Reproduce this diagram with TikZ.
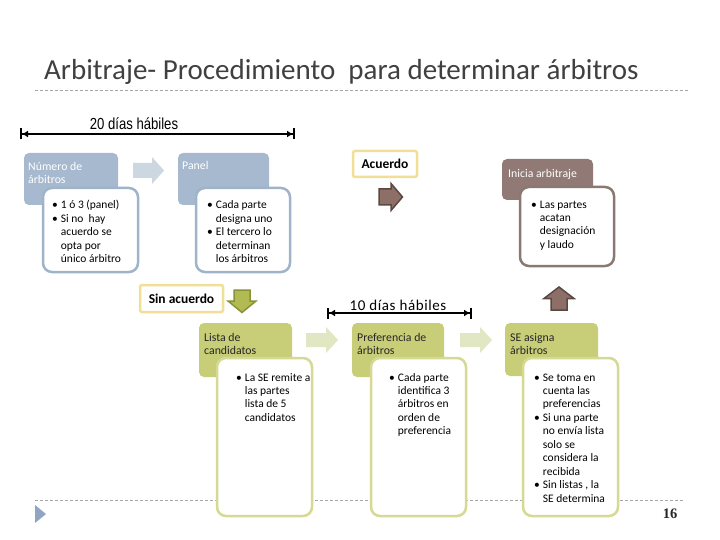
\documentclass[tikz,border=0pt]{standalone}
\usepackage{fontspec}
\setmainfont{Carlito}
\newfontfamily\narrowfont[FakeStretch=0.82]{Liberation Sans}
\newfontfamily\spacedfont[LetterSpace=4]{Carlito}
\newfontfamily\numfont{Liberation Serif}
\usetikzlibrary{arrows.meta}
\definecolor{titlegray}{HTML}{404040}
\definecolor{dashgray}{HTML}{A6A6A6}
\definecolor{blueC}{HTML}{A6B9CF}
\definecolor{blueB}{HTML}{A0B4C9}
\definecolor{blueP}{HTML}{CDD7E2}
\definecolor{brownC}{HTML}{917A75}
\definecolor{brownB}{HTML}{8A7873}
\definecolor{brownF}{HTML}{8E6F68}
\definecolor{brownD}{HTML}{5A4843}
\definecolor{greenC}{HTML}{C8CD78}
\definecolor{greenB}{HTML}{D5D994}
\definecolor{greenP}{HTML}{E1E6C3}
\definecolor{greenF}{HTML}{B2BA52}
\definecolor{greenD}{HTML}{899238}
\definecolor{yellowB}{HTML}{F2DF96}
\definecolor{triblue}{HTML}{8FA5C2}
\newcommand\mylines[1]{\begin{tabular}[t]{@{}l@{}}#1\end{tabular}}
\newcommand\blist[1]{\begin{tabular}[t]{@{}l@{\hspace{3pt}}l@{}}#1\end{tabular}}
\newcommand\bu{\textbullet}
\begin{document}
\begin{tikzpicture}[x=1pt,y=-1pt,
  dashrule/.style={draw=dashgray, line width=0.8pt, dash pattern=on 3pt off 2pt},
  colbox/.style={rounded corners=5pt},
  whitebox/.style={rounded corners=9pt, fill=white, line width=2.5pt},
  ttl/.style={anchor=base west, inner sep=0, font=\fontsize{11.8}{13}\selectfont},
  blt/.style={anchor=base west, inner sep=0, font=\fontsize{11.5}{13.45}\selectfont, text=black},
  decbox/.style={draw=yellowB, line width=2.5pt, fill=white, rounded corners=2pt, inner sep=0,
    font=\bfseries\fontsize{13.5}{15}\selectfont},
  dimline/.style={line width=2pt,
    {Bar[width=11pt,line width=2pt]Latex[length=6pt,width=7pt]}-{Latex[length=6pt,width=7pt]Bar[width=11pt,line width=2pt]}},
  blockarrow/.style={line width=1.5pt, line join=miter}
]
\useasboundingbox (0,0) rectangle (720,540);

% title and rules
\node[anchor=base west, inner sep=0, font=\fontsize{29}{34}\selectfont, text=titlegray] (title) at (44,80)
  {Arbitraje- Procedimiento~ para determinar árbitros};
\coordinate (r1a) at (35,90); \coordinate (r1b) at (690,90);
\draw[dashrule] (r1a) -- (r1b);
\coordinate (r2a) at (35,500); \coordinate (r2b) at (684,500);
\draw[dashrule] (r2a) -- (r2b);
\fill[triblue] (35,505) -- (46,514) -- (35,523) -- cycle;
\node[anchor=base, inner sep=0, font=\fontsize{14.5}{16}\numfont\bfseries, text=black!85] (pg) at (670,518) {16};

% 20 dias habiles
\coordinate (d1a) at (20,134); \coordinate (d1b) at (295,134);
\draw[dimline] (d1a) -- (d1b);
\node[anchor=base, inner sep=0, font=\narrowfont\fontsize{16}{18}\selectfont] (d1t) at (134,130) {20 días hábiles};

% 10 dias habiles
\coordinate (d2a) at (327,313); \coordinate (d2b) at (472,313);
\draw[dimline] (d2a) -- (d2b);
\node[anchor=base, inner sep=0, font=\spacedfont\fontsize{15}{17}\selectfont] (d2t) at (398,310) {10 días hábiles};

% ---------- Numero de arbitros
\fill[colbox, blueC] (24,153) rectangle (118,205);
\draw[whitebox, draw=blueB] (43,188) rectangle (138,272);
\node[ttl, text=white] (numT) at (28,171) {\mylines{Número de\\árbitros}};
\node[blt] (numL) at (52,209) {\blist{\bu & 1 ó 3 (panel)\\ \bu & Si no~ hay\\ & acuerdo se\\ & opta por\\ & único árbitro}};

% pale arrow
\fill[blueP] (133,163) -- (152,163) -- (152,157) -- (164,170.5) -- (152,184) -- (152,178) -- (133,178) -- cycle;

% ---------- Panel
\fill[colbox, blueC] (178,153) rectangle (269,205);
\draw[whitebox, draw=blueB] (196,188) rectangle (290,272);
\node[ttl, text=white] (panT) at (182,170) {\mylines{Panel}};
\node[blt] (panL) at (207,209) {\blist{\bu & Cada parte\\ & designa uno\\ \bu & El tercero lo\\ & determinan\\ & los árbitros}};

% ---------- Acuerdo
\node[decbox, minimum width=64pt, minimum height=26pt] (acu) at (385,164) {Acuerdo};
\filldraw[blockarrow, fill=brownF, draw=brownD] (379,189) -- (391,189) -- (391,183.5) -- (402.5,197) -- (391,210.5) -- (391,205) -- (379,205) -- cycle;

% ---------- Inicia arbitraje
\fill[colbox, brownC] (502,159) rectangle (593,200);
\draw[whitebox, draw=brownB] (520,187) rectangle (614,266);
\node[ttl, text=white] (iniT) at (508,178) {\mylines{Inicia arbitraje}};
\node[blt] (iniL) at (531,208) {\blist{\bu & Las partes\\ & acatan\\ & designación\\ & y laudo}};

% ---------- Sin acuerdo
\node[decbox, minimum width=83pt, minimum height=27pt] (sin) at (181.5,298.5) {Sin acuerdo};
\filldraw[blockarrow, fill=greenF, draw=greenD] (234,290) -- (250,290) -- (250,301) -- (256,301) -- (242,312.5) -- (228,301) -- (234,301) -- cycle;

% ---------- Lista de candidatos
\fill[colbox, greenC] (199,323) rectangle (292,377);
\draw[whitebox, draw=greenB] (217,358) rectangle (312,516);
\node[ttl, text=black!85] (lisT) at (204,341) {\mylines{Lista de\\candidatos}};
\node[blt] (lisL) at (236,381) {\blist{\bu & La SE remite a\\ & las partes\\ & lista de 5\\ & candidatos}};

\fill[greenP] (306,333) -- (326,333) -- (326,327) -- (338,340) -- (326,353) -- (326,347) -- (306,347) -- cycle;

% ---------- Preferencia de arbitros
\fill[colbox, greenC] (352,323) rectangle (444,377);
\draw[whitebox, draw=greenB] (371,358) rectangle (466,516);
\node[ttl, text=black!85] (preT) at (357,341) {\mylines{Preferencia de\\árbitros}};
\node[blt] (preL) at (389,381) {\blist{\bu & Cada parte\\ & identifica 3\\ & árbitros en\\ & orden de\\ & preferencia}};

\fill[greenP] (460,333) -- (480,333) -- (480,327) -- (492,340) -- (480,353) -- (480,347) -- (460,347) -- cycle;

% ---------- SE asigna arbitros
\fill[colbox, greenC] (505,323) rectangle (598,376);
\draw[whitebox, draw=greenB] (523,358) rectangle (618,516);
\node[ttl, text=black!85] (seT) at (510,341) {\mylines{SE asigna\\árbitros}};
\node[blt] (seL) at (534,381) {\blist{\bu & Se toma en\\ & cuenta las\\ & preferencias\\ \bu & Si una parte\\ & no envía lista\\ & solo se\\ & considera la\\ & recibida\\ \bu & Sin listas , la\\ & SE determina}};

\filldraw[blockarrow, fill=brownF, draw=brownD] (551,310) -- (567,310) -- (567,298.5) -- (574,298.5) -- (559,287) -- (544,298.5) -- (551,298.5) -- cycle;

\end{tikzpicture}
\end{document}
